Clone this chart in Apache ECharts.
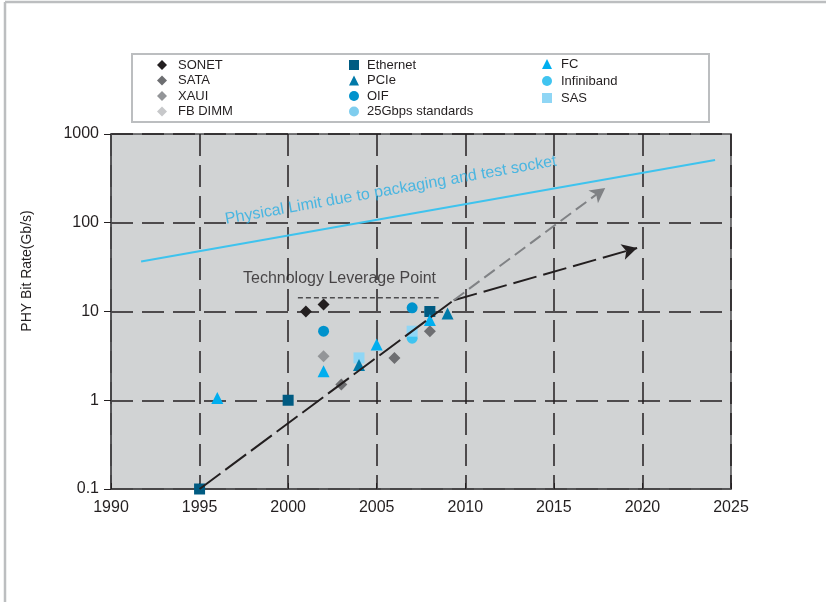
<!DOCTYPE html>
<html>
<head>
<meta charset="utf-8">
<script src="https://cdn.jsdelivr.net/npm/echarts@6/dist/echarts.min.js"></script>
<style>
  html, body { margin: 0; padding: 0; background: #ffffff; }
  #chart { width: 826px; height: 602px; }
</style>
</head>
<body>
<div id="chart"></div>
<script>
// Serial link PHY bit rates by year, per interface standard (Gb/s, log scale)
const xTicks = [1990, 1995, 2000, 2005, 2010, 2015, 2020, 2025];
const yTicks = [0.1, 1, 10, 100, 1000];

const sonet      = [[2001, 10], [2002, 12]];
const sata       = [[2003, 1.5], [2006, 3], [2008, 6]];
const xaui       = [[2002, 3.125]];
const fbDimm     = [];
const ethernet   = [[1995, 0.1], [2000, 1], [2008, 10]];
const pcie       = [[2004, 2.5], [2009, 9.5]];
const oif        = [[2002, 6], [2007, 11]];
const std25G     = [];
const fc         = [[1996, 1.0625], [2002, 2.125], [2005, 4.25], [2008, 8]];
const infiniband = [[2007, 5], [2008, 10]];
const sas        = [[2004, 3], [2007, 6]];

// Trend: growth to the leverage point, then two projected paths
const trendGrowth   = [[1995, 0.1], [2009.35, 13.4]];
const trendSlow     = [[2009.35, 13.4], [2019.7, 52]];
const trendFast     = [[2009.35, 13.4], [2017.9, 247]];
const leverageLevel = [[2000.55, 14.3], [2008.5, 14.3]];
const physicalLimit = [[1991.7, 36.5], [2024.1, 510]];

const leverageText = 'Technology Leverage Point';
const limitText = 'Physical Limit due to packaging and test socket';
const leverageTextAt = [2002.9, 23.5];
const limitTextAt = [2005.8, 232];
const yAxisTitle = 'PHY Bit Rate(Gb/s)';

const legendCol1 = ['SONET', 'SATA', 'XAUI', 'FB DIMM'];
const legendCol2 = ['Ethernet', 'PCIe', 'OIF', '25Gbps standards'];
const legendCol3 = ['FC', 'Infiniband', 'SAS'];

const FONT = "'Liberation Sans', Arial, Helvetica, sans-serif";

function pointSeries(name, data, symbol, color, size) {
  return {
    name: name, type: 'scatter', data: data,
    symbol: symbol, symbolSize: size,
    itemStyle: { color: color, opacity: 1 },
    z: 3, silent: true
  };
}

const series = [
  pointSeries('SONET', sonet, 'diamond', '#231f20', 12),
  pointSeries('SATA', sata, 'diamond', '#6d6e71', 12),
  pointSeries('XAUI', xaui, 'diamond', '#939598', 12),
  pointSeries('FB DIMM', fbDimm, 'diamond', '#c7c8ca', 12),
  pointSeries('Infiniband', infiniband, 'circle', '#40c4f0', 11),
  pointSeries('SAS', sas, 'rect', '#8fd6f5', 11),
  pointSeries('Ethernet', ethernet, 'rect', '#005b82', 11),
  pointSeries('PCIe', pcie, 'triangle', '#0079a8', 12),
  pointSeries('OIF', oif, 'circle', '#0092cc', 11),
  pointSeries('25Gbps standards', std25G, 'circle', '#7fcdee', 8),
  pointSeries('FC', fc, 'triangle', '#00aeef', 12),
  {
    name: 'limit', type: 'line', data: physicalLimit, symbol: 'none',
    lineStyle: { color: '#3ec3ee', width: 2 }, z: 4, silent: true
  },
  {
    name: 'leverage', type: 'line', data: leverageLevel, symbol: 'none',
    lineStyle: { color: '#4d4d4f', width: 1.5, type: [5, 3] }, z: 4, silent: true
  },
  {
    name: 'growth', type: 'line', data: trendGrowth, symbol: 'none',
    lineStyle: { color: '#231f20', width: 2, type: [26, 6] }, z: 5, silent: true,
    markLine: {
      silent: true, symbol: ['none', 'arrow'], symbolSize: [12, 15],
      label: { show: false },
      data: [
        [{ coord: trendSlow[0], lineStyle: { color: '#231f20', width: 2, type: [24, 7] } },
         { coord: trendSlow[1] }],
        [{ coord: trendFast[0], lineStyle: { color: '#808285', width: 2, type: [13, 6] } },
         { coord: trendFast[1] }]
      ]
    }
  },
  {
    name: 'notes', type: 'scatter', symbolSize: 0, silent: true, z: 6,
    data: [
      { value: leverageTextAt, label: { formatter: leverageText, color: '#231f20', fontSize: 16 } },
      { value: limitTextAt, label: { formatter: limitText, color: '#27aee3', fontSize: 16, rotate: 10 } }
    ],
    label: { show: true, position: 'inside', fontFamily: FONT }
  }
];

// Text sits a little above its marker in each legend row
function legendBlock(names, left, top, gap, textPad, lift) {
  return {
    data: names, orient: 'vertical', left: left, top: top,
    itemWidth: 10, itemHeight: 10, itemGap: gap, padding: 0,
    selectedMode: false,
    textStyle: { fontFamily: FONT, fontSize: 13, color: '#231f20', lineHeight: 13,
                 padding: [0, 0, lift, textPad] }
  };
}

const chart = echarts.init(document.getElementById('chart'), null, { renderer: 'canvas' });
chart.setOption({
  animation: false,
  backgroundColor: '#ffffff',
  textStyle: { fontFamily: FONT },
  grid: {
    left: 111, right: 95, top: 134, bottom: 113,
    show: true, backgroundColor: '#d1d3d4', borderColor: '#4d4d4f', borderWidth: 1.5
  },
  legend: [
    legendBlock(legendCol1, 157, 53.5, -7.5, 6, 10),
    legendBlock(legendCol2, 349, 53.5, -7.5, 3, 10),
    legendBlock(legendCol3, 542, 54.5, -2, 4, 6)
  ],
  xAxis: {
    type: 'value', min: xTicks[0], max: xTicks[xTicks.length - 1], interval: 5,
    axisLine: { show: true, lineStyle: { color: '#4d4d4f', width: 1.5 } },
    axisTick: { show: true, inside: true, length: 6, lineStyle: { color: '#231f20', width: 1 } },
    axisLabel: { color: '#231f20', fontSize: 16, margin: 11, fontFamily: FONT,
                 formatter: function (v) { return String(v); } },
    splitLine: { show: true, lineStyle: { color: '#231f20', width: 1.5, type: [22, 9] } }
  },
  yAxis: {
    type: 'log', logBase: 10, min: yTicks[0], max: yTicks[yTicks.length - 1],
    axisLine: { show: true, lineStyle: { color: '#4d4d4f', width: 1.5 } },
    axisTick: { show: true, inside: false, length: 7, lineStyle: { color: '#231f20', width: 1 } },
    axisLabel: {
      color: '#231f20', fontSize: 16, margin: 12, fontFamily: FONT,
      formatter: function (v) { return v < 1 ? v.toFixed(1) : String(Math.round(v)); }
    },
    minorTick: { show: false },
    splitLine: { show: true, lineStyle: { color: '#231f20', width: 1.5, type: [22, 9] } }
  },
  graphic: [
    { type: 'line', silent: true, shape: { x1: 5, y1: 2, x2: 826, y2: 2 },
      style: { stroke: '#bcbec0', lineWidth: 2.5 } },
    { type: 'line', silent: true, shape: { x1: 5, y1: 2, x2: 5, y2: 602 },
      style: { stroke: '#bcbec0', lineWidth: 2.5 } },
    { type: 'rect', silent: true, z: -1, shape: { x: 132, y: 54, width: 577, height: 68 },
      style: { fill: '#ffffff', stroke: '#bcbec0', lineWidth: 2 } },
    { type: 'text', silent: true, x: 27, y: 271, rotation: Math.PI / 2,
      style: { text: yAxisTitle, font: '14px ' + FONT, fill: '#231f20',
               textAlign: 'center', textVerticalAlign: 'middle' } }
  ],
  series: series
});
</script>
</body>
</html>
